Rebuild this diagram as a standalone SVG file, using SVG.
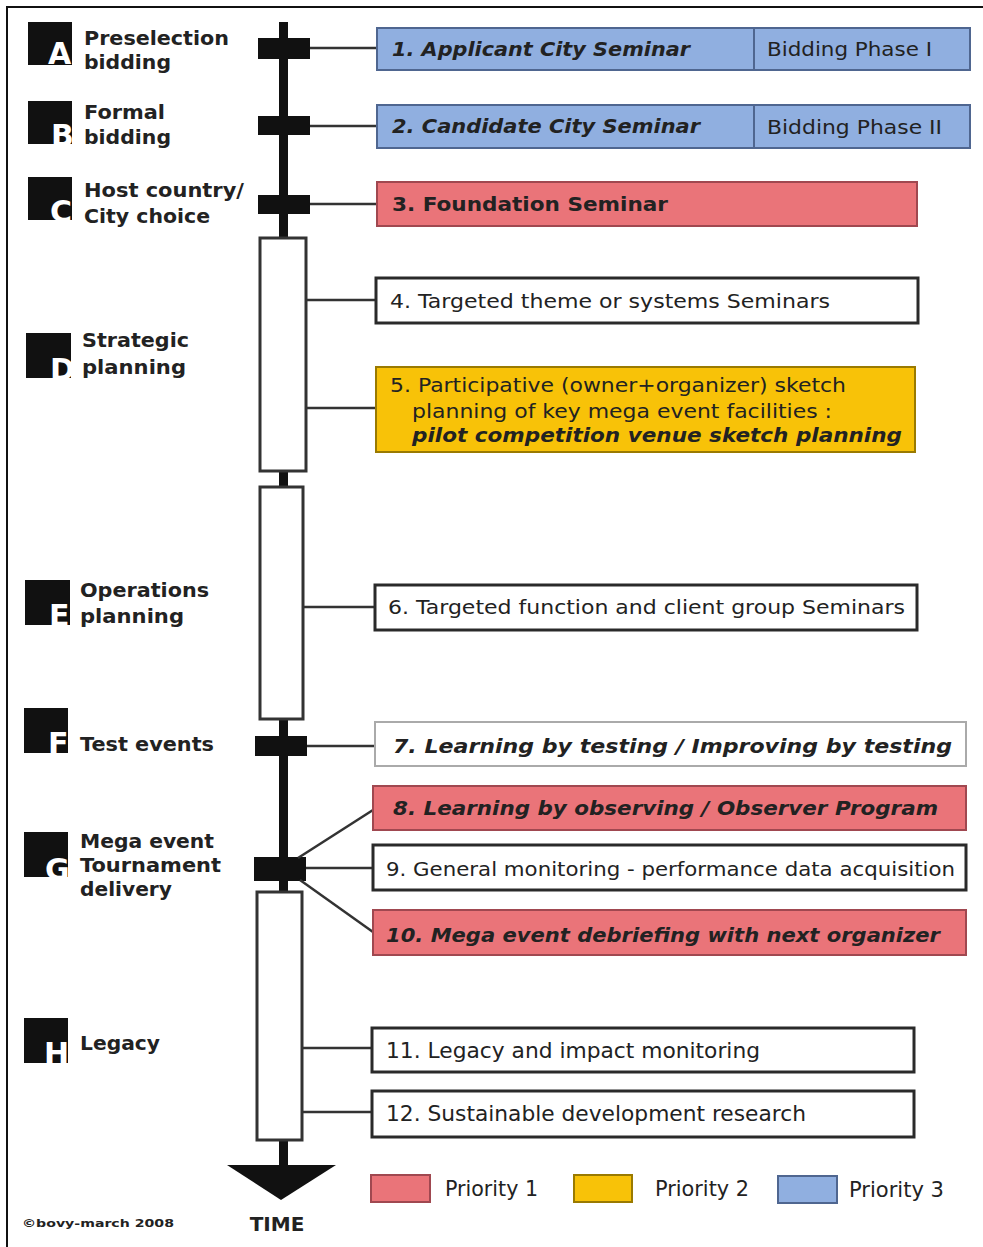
<svg xmlns="http://www.w3.org/2000/svg" width="983" height="1247" viewBox="0 0 983 1247">
<style>
text{font-family:"DejaVu Sans","Verdana",sans-serif;fill:#222}
.lbl{font-size:20px;font-weight:bold}
.ltr{font-size:30px;font-weight:bold;fill:#fff}
.bx{font-size:19.5px}
.cx{font-size:21px}
.bi{font-size:19px;font-weight:bold;font-style:italic}
.b{font-size:19px;font-weight:bold}
.blue{fill:#90afe0;stroke:#4f6690;stroke-width:2}
.red{fill:#ea7479;stroke:#a04850;stroke-width:2}
.yel{fill:#f8c208;stroke:#9a7a00;stroke-width:2}
.wht{fill:#fff;stroke:#2a2a2a;stroke-width:3}
.tick{fill:#111}
.phase{fill:#fff;stroke:#333;stroke-width:3}
.con line{stroke:#333;stroke-width:2.5}
</style>
<rect x="7" y="7" width="1000" height="1260" fill="#fff" stroke="#111" stroke-width="2"/>

<g id="timeline">
<rect x="279" y="22" width="9" height="1145" fill="#111"/>
<rect class="tick" x="258" y="38" width="52" height="21"/>
<rect class="tick" x="258" y="116" width="52" height="19"/>
<rect class="tick" x="258" y="195" width="52" height="19"/>
<rect class="phase" x="260" y="238" width="46" height="233"/>
<rect class="phase" x="260" y="487" width="43" height="232"/>
<rect class="tick" x="255" y="736" width="52" height="20"/>
<rect class="tick" x="254" y="857" width="52" height="24"/>
<rect class="phase" x="257" y="892" width="45" height="248"/>
<polygon points="227,1165 336,1165 281,1200" fill="#111"/>
<text x="277" y="1231" text-anchor="middle" style="font-size:20px;font-weight:bold">TIME</text>
</g>

<g class="con" id="connectors">
<line x1="310" y1="48" x2="377" y2="48"/>
<line x1="310" y1="126" x2="377" y2="126"/>
<line x1="310" y1="204" x2="377" y2="204"/>
<line x1="307" y1="300" x2="376" y2="300"/>
<line x1="307" y1="408" x2="376" y2="408"/>
<line x1="304" y1="607" x2="375" y2="607"/>
<line x1="307" y1="746" x2="375" y2="746"/>
<line x1="298" y1="858" x2="373" y2="810"/>
<line x1="306" y1="868" x2="373" y2="868"/>
<line x1="300" y1="880" x2="373" y2="932"/>
<line x1="303" y1="1048" x2="372" y2="1048"/>
<line x1="303" y1="1112" x2="372" y2="1112"/>
</g>

<g id="stageA"><rect x="28" y="22" width="44" height="43" fill="#111"/><text class="ltr" x="48" y="64">A</text>
<text class="lbl" x="84" y="45" textLength="145" lengthAdjust="spacingAndGlyphs">Preselection</text>
<text class="lbl" x="84" y="69" textLength="87" lengthAdjust="spacingAndGlyphs">bidding</text></g>
<g id="stageB"><rect x="28" y="101" width="44" height="43" fill="#111"/><text class="ltr" x="51" y="146">B</text>
<text class="lbl" x="84" y="119" textLength="81" lengthAdjust="spacingAndGlyphs">Formal</text>
<text class="lbl" x="84" y="144" textLength="87" lengthAdjust="spacingAndGlyphs">bidding</text></g>
<g id="stageC"><rect x="28" y="177" width="44" height="43" fill="#111"/><text class="ltr" x="50" y="222">C</text>
<text class="lbl" x="84" y="197" textLength="160" lengthAdjust="spacingAndGlyphs">Host country/</text>
<text class="lbl" x="84" y="223" textLength="126" lengthAdjust="spacingAndGlyphs">City choice</text></g>
<g id="stageD"><rect x="26" y="333" width="45" height="45" fill="#111"/><text class="ltr" x="50" y="380">D</text>
<text class="lbl" x="82" y="347" textLength="107" lengthAdjust="spacingAndGlyphs">Strategic</text>
<text class="lbl" x="82" y="374" textLength="104" lengthAdjust="spacingAndGlyphs">planning</text></g>
<g id="stageE"><rect x="25" y="580" width="45" height="45" fill="#111"/><text class="ltr" x="49" y="626">E</text>
<text class="lbl" x="80" y="597" textLength="129" lengthAdjust="spacingAndGlyphs">Operations</text>
<text class="lbl" x="80" y="623" textLength="104" lengthAdjust="spacingAndGlyphs">planning</text></g>
<g id="stageF"><rect x="24" y="708" width="44" height="45" fill="#111"/><text class="ltr" x="48" y="754">F</text>
<text class="lbl" x="80" y="751" textLength="134" lengthAdjust="spacingAndGlyphs">Test events</text></g>
<g id="stageG"><rect x="24" y="832" width="44" height="45" fill="#111"/><text class="ltr" x="45" y="880">G</text>
<text class="lbl" x="80" y="848" textLength="134" lengthAdjust="spacingAndGlyphs">Mega event</text>
<text class="lbl" x="80" y="872" textLength="141" lengthAdjust="spacingAndGlyphs">Tournament</text>
<text class="lbl" x="80" y="896" textLength="92" lengthAdjust="spacingAndGlyphs">delivery</text></g>
<g id="stageH"><rect x="24" y="1018" width="44" height="45" fill="#111"/><text class="ltr" x="44" y="1064">H</text>
<text class="lbl" x="80" y="1050" textLength="80" lengthAdjust="spacingAndGlyphs">Legacy</text></g>

<g id="box1"><rect class="blue" x="377" y="28" width="593" height="42"/><line x1="754" y1="28" x2="754" y2="70" stroke="#4f6690" stroke-width="2"/>
<text class="bi" x="392" y="56" textLength="298" lengthAdjust="spacingAndGlyphs">1. Applicant City Seminar</text>
<text class="bx" x="767" y="56" textLength="165" lengthAdjust="spacingAndGlyphs">Bidding Phase I</text></g>
<g id="box2"><rect class="blue" x="377" y="105" width="593" height="43"/><line x1="754" y1="105" x2="754" y2="148" stroke="#4f6690" stroke-width="2"/>
<text class="bi" x="392" y="133" textLength="308" lengthAdjust="spacingAndGlyphs">2. Candidate City Seminar</text>
<text class="bx" x="767" y="134" textLength="175" lengthAdjust="spacingAndGlyphs">Bidding Phase II</text></g>
<g id="box3"><rect class="red" x="377" y="182" width="540" height="44"/>
<text class="b" x="392" y="211" textLength="276" lengthAdjust="spacingAndGlyphs">3. Foundation Seminar</text></g>
<g id="box4"><rect class="wht" x="376" y="278" width="542" height="45"/>
<text class="bx" x="390" y="308" textLength="440" lengthAdjust="spacingAndGlyphs">4. Targeted theme or systems Seminars</text></g>
<g id="box5"><rect class="yel" x="376" y="367" width="539" height="85"/>
<text class="bx" x="390" y="392" textLength="456" lengthAdjust="spacingAndGlyphs">5. Participative (owner+organizer) sketch</text>
<text class="bx" x="412" y="418" textLength="420" lengthAdjust="spacingAndGlyphs">planning of key mega event facilities :</text>
<text class="bi" x="412" y="442" textLength="490" lengthAdjust="spacingAndGlyphs">pilot competition venue sketch planning</text></g>
<g id="box6"><rect class="wht" x="375" y="585" width="542" height="45"/>
<text class="bx" x="388" y="614" textLength="517" lengthAdjust="spacingAndGlyphs">6. Targeted function and client group Seminars</text></g>
<g id="box7"><rect x="375" y="722" width="591" height="44" fill="#fff" stroke="#aaa" stroke-width="2"/>
<text class="bi" x="393" y="753" textLength="559" lengthAdjust="spacingAndGlyphs">7. Learning by testing / Improving by testing</text></g>
<g id="box8"><rect class="red" x="373" y="786" width="593" height="44"/>
<text class="bi" x="393" y="815" textLength="545" lengthAdjust="spacingAndGlyphs">8. Learning by observing / Observer Program</text></g>
<g id="box9"><rect class="wht" x="373" y="845" width="593" height="45"/>
<text class="bx" x="386" y="876" textLength="569" lengthAdjust="spacingAndGlyphs">9. General monitoring - performance data acquisition</text></g>
<g id="box10"><rect class="red" x="373" y="910" width="593" height="45"/>
<text class="bi" x="386" y="942" textLength="554" lengthAdjust="spacingAndGlyphs">10. Mega event debriefing with next organizer</text></g>
<g id="box11"><rect class="wht" x="372" y="1028" width="542" height="44"/>
<text class="cx" x="386" y="1058" textLength="374" lengthAdjust="spacingAndGlyphs">11. Legacy and impact monitoring</text></g>
<g id="box12"><rect class="wht" x="372" y="1091" width="542" height="46"/>
<text class="cx" x="386" y="1121" textLength="420" lengthAdjust="spacingAndGlyphs">12. Sustainable development research</text></g>

<g id="legend">
<rect class="red" x="371" y="1175" width="59" height="27"/>
<text class="cx" x="445" y="1196" textLength="93" lengthAdjust="spacingAndGlyphs">Priority 1</text>
<rect class="yel" x="574" y="1175" width="58" height="27"/>
<text class="cx" x="655" y="1196" textLength="94" lengthAdjust="spacingAndGlyphs">Priority 2</text>
<rect class="blue" x="778" y="1176" width="59" height="27"/>
<text class="cx" x="849" y="1197" textLength="95" lengthAdjust="spacingAndGlyphs">Priority 3</text>
</g>
<text x="22" y="1227" style="font-size:11px;font-weight:bold" textLength="152" lengthAdjust="spacingAndGlyphs">©bovy-march 2008</text>
</svg>
